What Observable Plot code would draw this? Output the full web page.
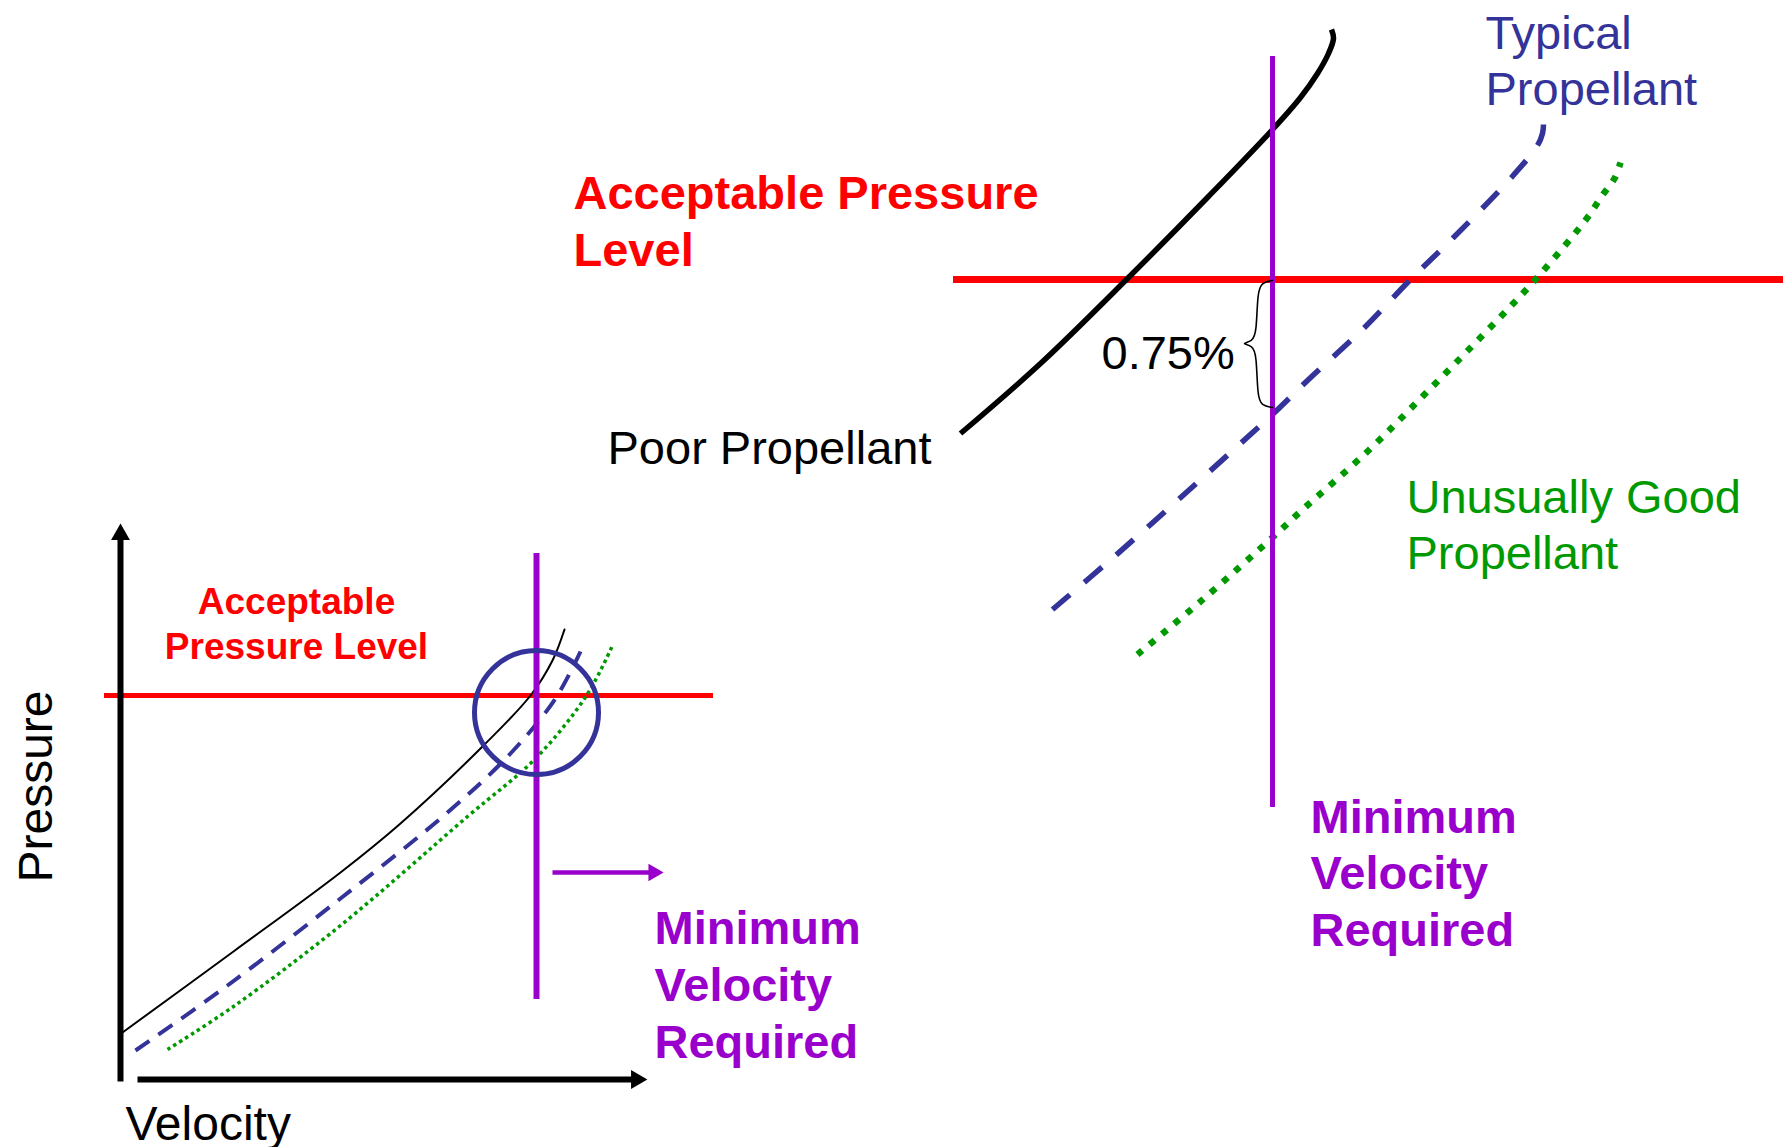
<!DOCTYPE html>
<html><head><meta charset="utf-8">
<script src="https://cdn.jsdelivr.net/npm/d3@7"></script>
<script src="https://cdn.jsdelivr.net/npm/@observablehq/plot@0.6"></script>
<style>html,body{margin:0;padding:0;background:#fff;} svg{display:block;}</style>
</head><body><div id="chart"></div>
<script>
// ---- Data (diagram units: velocity → right, pressure → up, drawn in picture units) ----
// Small overview diagram (left): three propellant curves
const insetPoor    = [[122,1032],[233,951],[340,872],[400,823],[483,745],[530,695],[552,660],[564,629]];
const insetTypical = [[135,1050],[227,985],[340,898],[447,812],[510,753],[555,698],[580,651]];
const insetGood    = [[167,1049],[233,1006],[340,925],[467,816],[536,757],[586,695],[612,645]];
// Enlarged view (right): the same three curves near the limits
const zoomPoor    = [[960,433],[1040,363],[1127,278],[1207,197],[1273,128],[1300,97],[1317,73],[1328,53],[1333,38],[1331,29]];
const zoomTypical = [[1052,609],[1115,555],[1178,499],[1240,443],[1273,413],[1307,380],[1363,328],[1410,279],[1453,237],[1510,178],[1537,145],[1542,133],[1543,124]];
const zoomGood    = [[1137,654],[1200,601],[1272,537],[1300,511],[1367,451],[1423,395],[1480,337],[1535,279],[1587,217],[1601,196],[1614,178],[1620,162]];
// Limits
const insetPressureLevel = [{y:695, x1:104, x2:713}];
const zoomPressureLevel  = [{y:279, x1:953, x2:1783}];
const insetMinVelocity   = [{x:536, y1:553, y2:999}];
const zoomMinVelocity    = [{x:1272, y1:56, y2:807}];
const focusCircle = [{x:536, y:712}];
const gapBrace = [[1272,280],[1261,282],[1257,292],[1256,332],[1252,341],[1240,343],[1252,345],[1256,354],[1257,396],[1261,405],[1272,407]];
// Axes and arrows
const axisLines  = [{x1:120,y1:1081,x2:120,y2:532},{x1:137,y1:1079,x2:638,y2:1079}];
const axisTipUp  = [{x:120,y:523}];
const axisTipRight = [{x:647,y:1079}];
const velocityArrow = [{x1:552,y1:872,x2:654,y2:872}];
const velocityArrowTip = [{x:663,y:872}];
// Labels
const zoomPressureLabel = [{text:"Acceptable Pressure",x:573,y:208},{text:"Level",x:573,y:265}];
const insetPressureLabel = [{text:"Acceptable",x:296,y:613},{text:"Pressure Level",x:296,y:658}];
const zoomVelocityLabel = [{text:"Minimum",x:1310,y:832},{text:"Velocity",x:1310,y:888},{text:"Required",x:1310,y:945}];
const insetVelocityLabel = [{text:"Minimum",x:654,y:943},{text:"Velocity",x:654,y:1000},{text:"Required",x:654,y:1057}];
const poorLabel = [{text:"Poor Propellant",x:607,y:463}];
const gapLabel = [{text:"0.75%",x:1101,y:368}];
const typicalLabel = [{text:"Typical",x:1485,y:48},{text:"Propellant",x:1485,y:104}];
const goodLabel = [{text:"Unusually Good",x:1406,y:512},{text:"Propellant",x:1406,y:568}];
const yAxisLabel = [{text:"Pressure",x:51,y:786}];
const xAxisLabel = [{text:"Velocity",x:125,y:1139}];

// ---- Styles ----
const RED="#ff0000", PURPLE="#9900cc", BLUE="#333399", GREEN="#009900";
const FONT = "'Liberation Sans', Arial, Helvetica, sans-serif";
const px = d => d[0], py = d => d[1];
const txt = (data, o) => Plot.text(data, {x:"x", y:"y", text:"text", fontFamily:FONT, textAnchor:"start", lineAnchor:"bottom", fontSize:47, ...o});

const chart = Plot.plot({
  width: 1783, height: 1147,
  marginTop: 0, marginRight: 0, marginBottom: 0, marginLeft: 0,
  style: {background: "#fff", overflow: "visible"},
  x: {domain: [0, 1783], range: [0, 1783], axis: null},
  y: {domain: [0, 1147], range: [0, 1147], axis: null},
  marks: [
    // left overview
    Plot.ruleY(insetPressureLevel, {y:"y", x1:"x1", x2:"x2", stroke:RED, strokeWidth:5}),
    Plot.line(insetPoor, {x:px, y:py, curve:"catmull-rom", stroke:"#000", strokeWidth:2}),
    Plot.line(insetTypical, {x:px, y:py, curve:"catmull-rom", stroke:BLUE, strokeWidth:4, strokeDasharray:"17,11", strokeLinecap:"butt"}),
    Plot.line(insetGood, {x:px, y:py, curve:"catmull-rom", stroke:GREEN, strokeWidth:3.5, strokeDasharray:"3.5,3.5", strokeLinecap:"butt"}),
    Plot.ruleX(insetMinVelocity, {x:"x", y1:"y1", y2:"y2", stroke:PURPLE, strokeWidth:6}),
    Plot.dot(focusCircle, {x:"x", y:"y", r:62, stroke:BLUE, strokeWidth:5, fill:"none"}),
    Plot.link(axisLines, {x1:"x1", y1:"y1", x2:"x2", y2:"y2", stroke:"#000", strokeWidth:6}),
    Plot.dot(axisTipUp, {x:"x", y:"y", symbol:"triangle", r:7, fill:"#000", stroke:"none", dy:11}),
    Plot.dot(axisTipRight, {x:"x", y:"y", symbol:"triangle", r:7, fill:"#000", stroke:"none", rotate:90, dx:-11}),
    Plot.link(velocityArrow, {x1:"x1", y1:"y1", x2:"x2", y2:"y2", stroke:PURPLE, strokeWidth:4.5}),
    Plot.dot(velocityArrowTip, {x:"x", y:"y", symbol:"triangle", r:6.5, fill:PURPLE, stroke:"none", rotate:90, dx:-10}),
    // right enlarged view
    Plot.ruleY(zoomPressureLevel, {y:"y", x1:"x1", x2:"x2", stroke:RED, strokeWidth:7}),
    Plot.line(zoomPoor, {x:px, y:py, curve:"catmull-rom", stroke:"#000", strokeWidth:5.5, strokeLinecap:"butt"}),
    Plot.line(zoomTypical, {x:px, y:py, curve:"catmull-rom", stroke:BLUE, strokeWidth:5.5, strokeDasharray:"23,19", strokeLinecap:"butt"}),
    Plot.line(zoomGood, {x:px, y:py, curve:"catmull-rom", stroke:GREEN, strokeWidth:6.5, strokeDasharray:"6.5,9.5", strokeLinecap:"butt"}),
    Plot.ruleX(zoomMinVelocity, {x:"x", y1:"y1", y2:"y2", stroke:PURPLE, strokeWidth:5}),
    Plot.line(gapBrace, {x:px, y:py, curve:"basis", stroke:"#000", strokeWidth:1.6}),
    // labels
    txt(zoomPressureLabel, {fill:RED, fontWeight:"bold"}),
    txt(insetPressureLabel, {fill:RED, fontWeight:"bold", fontSize:37, textAnchor:"middle"}),
    txt(zoomVelocityLabel, {fill:PURPLE, fontWeight:"bold"}),
    txt(insetVelocityLabel, {fill:PURPLE, fontWeight:"bold"}),
    txt(poorLabel, {fill:"#000"}),
    txt(gapLabel, {fill:"#000"}),
    txt(typicalLabel, {fill:BLUE}),
    txt(goodLabel, {fill:GREEN}),
    txt(yAxisLabel, {fill:"#000", fontSize:48, rotate:-90, textAnchor:"middle"}),
    txt(xAxisLabel, {fill:"#000", fontSize:48})
  ]
});
document.getElementById("chart").appendChild(chart);
</script>
</body></html>
